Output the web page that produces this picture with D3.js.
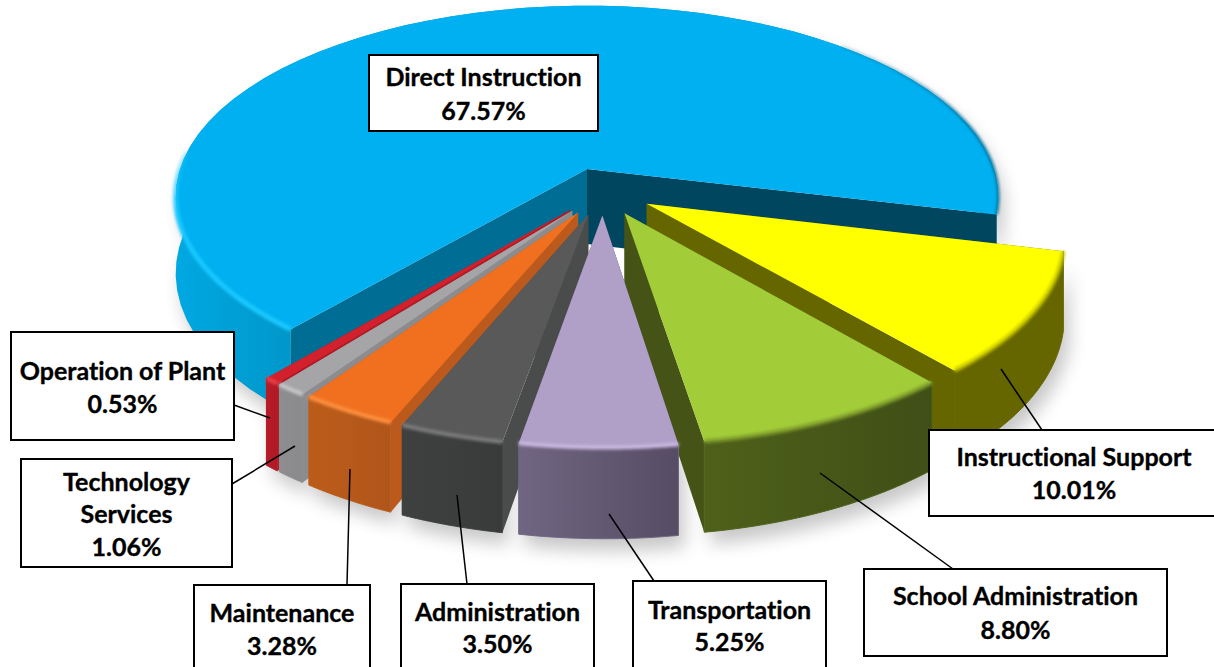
<!DOCTYPE html>
<html lang="en">

<head>
    <meta charset="utf-8">
    <script src="https://cdn.jsdelivr.net/npm/d3@7/dist/d3.min.js"></script>
    <style>
        html, body { margin: 0; padding: 0; background: #fff; overflow: hidden; }
        text { font-family: Lato, "Noto Sans", sans-serif; font-weight: 700; font-size: 25px; fill: #000; text-anchor: middle;
            font-variant-ligatures: none; stroke: #000; stroke-width: 0.35px; }
    </style>
</head>

<body>
    <div id="my_dataviz"></div>

    <script>
        // chart values, clockwise from the yellow slice
        const categories = ["Instructional Support", "School Administration", "Transportation", "Administration",
            "Maintenance", "Technology Services", "Operation of Plant", "Direct Instruction"];
        const values = [10.01, 8.80, 5.25, 3.50, 3.28, 1.06, 0.53, 67.57];

        // colours per slice
        const topColors = ["#ffff00", "#a2cd39", "#b09fc6", "#595959", "#f07020", "#a5a5a8", "#d2202c", "#00b0f0"];
        const wallLeft = ["#666600", "#4e6119", "#716682", "#3f4040", "#bc5c1a", "#8e8e91", "#b71b27", "#009ed6"];
        const wallRight = ["#666600", "#3f4f17", "#564c64", "#393a3a", "#b0561a", "#8a8a8d", "#b01a25", "#0094c6"];
        const sideColors = ["#666600", "#455416", "#564c64", "#4a4c4c", "#bb5a1c", "#8c8c8f", "#b01a25", "#00465f"];
        const rimColors = ["#c8c800", "#7f9c2c", "#c9b8e0", "#7d7d7d", "#ff9140", "#c8c8ca", "#e8404a", "#19c8ff"];

        // label boxes: x, y, w, h, line text centres, leader from / to
        const labelBoxes = [
            { x: 929, y: 430, w: 290, h: 86, lines: [457, 490], leader: [[1042, 430], [1001, 369]] },
            { x: 864, y: 569, w: 303, h: 87, lines: [596, 630], leader: [[953, 569], [820, 473]] },
            { x: 633, y: 581, w: 193, h: 90, lines: [610, 642], leader: [[654, 581], [609, 514]] },
            { x: 401, y: 584, w: 193, h: 90, lines: [612, 644], leader: [[467, 584], [457, 495]] },
            { x: 194, y: 585, w: 176, h: 90, lines: [613, 646], leader: [[347, 585], [350, 469]] },
            { x: 21, y: 459, w: 211, h: 108, lines: [482, 514, 547], leader: [[232, 484], [295, 446]] },
            { x: 11, y: 332, w: 223, h: 108, lines: [371, 404], leader: [[234, 405], [270, 418]] },
            { x: 369, y: 55, w: 229, h: 76, lines: [77, 111], leader: null }
        ];
        const labelLines = [
            ["Instructional Support"], ["School Administration"], ["Transportation"], ["Administration"],
            ["Maintenance"], ["Technology", "Services"], ["Operation of Plant"], ["Direct Instruction"]
        ];

        const width = 1214, height = 667;
        const depth = 75, persp = 0.145, explode = 0.123;
        const deg = Math.PI / 180;

        // plane coordinates to pixels, front of the pie is nearer
        const xPx = d3.scaleLinear().domain([-1, 1]).range([587 - 407, 587 + 407]);
        const yPx = d3.scaleLinear().domain([-1, 1]).range([169 - 187, 169 + 187]);
        function project(p, down) {
            const s = 1 / (1 - persp * p[1]);
            return [xPx(p[0] * s), yPx(p[1] * s) + (down ? depth * s : 0)];
        }

        const svg = d3.select("#my_dataviz").append("svg")
            .attr("width", width).attr("height", height);
        const defs = svg.append("defs");
        defs.append("filter").attr("id", "soft").attr("x", "-10%").attr("y", "-10%")
            .attr("width", "120%").attr("height", "120%")
            .append("feGaussianBlur").attr("stdDeviation", 9);
        defs.append("filter").attr("id", "rim").attr("filterUnits", "userSpaceOnUse")
            .attr("x", 0).attr("y", 0).attr("width", width).attr("height", height)
            .append("feGaussianBlur").attr("stdDeviation", 1.6);

        const pie = d3.pie().sort(null).startAngle(103.6 * deg).endAngle(463.6 * deg);
        const line = d3.line();
        const arcs = pie(values);

        const direct = arcs[7];
        const directMid = (direct.startAngle + direct.endAngle) / 2 - Math.PI / 2;
        const cx0 = -explode * Math.cos(directMid), cy0 = -explode * Math.sin(directMid);

        const slices = arcs.map((a, i) => {
            const mid = (a.startAngle + a.endAngle) / 2 - Math.PI / 2;
            const ox = cx0 + explode * Math.cos(mid), oy = cy0 + explode * Math.sin(mid);
            const t0 = a.startAngle - Math.PI / 2, t1 = a.endAngle - Math.PI / 2;
            const r = i === 7 ? 1 : 0.985;
            const rimAt = t => [ox + r * Math.cos(t), oy + r * Math.sin(t)];
            const rim = d3.range(0, 61).map(k => rimAt(t0 + (t1 - t0) * k / 60));
            return { i, apex: [ox, oy], rim, rimAt, t0, t1 };
        });

        // soft shadow on the page
        const shadow = svg.append("g").attr("filter", "url(#soft)").attr("opacity", 0.22)
            .attr("transform", "translate(6,12)");
        slices.forEach(s => {
            shadow.append("path").attr("fill", "#000")
                .attr("d", line(s.rim.map(p => project(p, true)).concat(s.rim.slice().reverse().map(p => project(p, false)))) + "Z");
        });

        // wall gradients
        slices.forEach(s => {
            const g = defs.append("linearGradient").attr("id", "wall" + s.i);
            g.append("stop").attr("offset", "0%").attr("stop-color", wallLeft[s.i]);
            g.append("stop").attr("offset", "100%").attr("stop-color", wallRight[s.i]);
        });
        const gradDirect = defs.append("linearGradient").attr("id", "wallDirect").attr("gradientUnits", "userSpaceOnUse")
            .attr("x1", 175).attr("x2", 300).attr("y1", 0).attr("y2", 0);
        gradDirect.append("stop").attr("offset", "0%").attr("stop-color", "#00a8e2");
        gradDirect.append("stop").attr("offset", "100%").attr("stop-color", "#0096c8");

        // rims of the big slice fade out towards the back
        function fadeGradient(id, color, y0, y1) {
            const g = defs.append("linearGradient").attr("id", id).attr("gradientUnits", "userSpaceOnUse")
                .attr("x1", 0).attr("x2", 0).attr("y1", y0).attr("y2", y1);
            g.append("stop").attr("offset", "0%").attr("stop-color", color).attr("stop-opacity", 0);
            g.append("stop").attr("offset", "100%").attr("stop-color", color).attr("stop-opacity", 1);
        }
        fadeGradient("rimLeft", rimColors[7], 130, 215);
        fadeGradient("rimRight", "#006f98", 20, 130);

        function quad(a, b) {
            return line([project(a, false), project(b, false), project(b, true), project(a, true)]) + "Z";
        }
        function rimPart(s, a, b) {
            return line(d3.range(0, 41).map(k => project(s.rimAt(a + (b - a) * k / 40), false)));
        }

        // painted back to front
        const order = [7, 6, 5, 4, 3, 0, 1, 2];
        order.forEach(i => {
            const s = slices[i];
            const g = svg.append("g");
            const first = s.rim[0], last = s.rim[s.rim.length - 1];

            const wall = s.rim.map(p => project(p, false))
                .concat(s.rim.slice().reverse().map(p => project(p, true)));
            const wallPath = () => g.append("path").attr("d", line(wall) + "Z")
                .attr("fill", i === 7 ? "url(#wallDirect)" : `url(#wall${i})`)
                .attr("stroke", i === 7 ? "none" : wallLeft[i]).attr("stroke-width", 1).attr("stroke-linejoin", "round");

            if (i === 7) {
                // inner faces of the big slice have two shades, over its outer wall
                wallPath();
                g.append("path").attr("d", quad(s.apex, last)).attr("fill", "#00465f");
                g.append("path").attr("d", quad(s.apex, first)).attr("fill", "#006d94");
            } else {
                g.append("path").attr("d", quad(s.apex, first)).attr("fill", sideColors[i]);
                g.append("path").attr("d", quad(s.apex, last)).attr("fill", sideColors[i]);
                wallPath();
            }

            const top = [project(s.apex, false)].concat(s.rim.map(p => project(p, false)));
            g.append("path").attr("d", line(top) + "Z")
                .attr("fill", topColors[i]);

            // rim where the top turns into the wall
            if (i === 7) {
                g.append("path").attr("d", rimPart(s, s.t0, s.t0 + 55 * deg))
                    .attr("fill", "none").attr("stroke", "url(#rimLeft)").attr("stroke-width", 5)
                    .attr("filter", "url(#rim)");
                g.append("path").attr("d", rimPart(s, s.t1 - 60 * deg, s.t1))
                    .attr("fill", "none").attr("stroke", "url(#rimRight)").attr("stroke-width", 2.5)
                    .attr("filter", "url(#rim)");
            } else {
                g.append("path").attr("d", line(s.rim.map(p => project(p, false))))
                    .attr("fill", "none").attr("stroke", rimColors[i]).attr("stroke-width", 4)
                    .attr("filter", "url(#rim)");
            }
        });

        // leaders and boxes
        labelBoxes.forEach((b, i) => {
            if (b.leader) {
                svg.append("line")
                    .attr("x1", b.leader[0][0]).attr("y1", b.leader[0][1])
                    .attr("x2", b.leader[1][0]).attr("y2", b.leader[1][1])
                    .attr("stroke", "#000").attr("stroke-width", 1.5);
            }
            svg.append("rect").attr("x", b.x).attr("y", b.y).attr("width", b.w).attr("height", b.h)
                .attr("fill", "#fff").attr("stroke", "#000").attr("stroke-width", 2);
            const rows = labelLines[i].concat(values[i].toFixed(2) + "%");
            rows.forEach((t, k) => {
                svg.append("text")
                    .attr("x", b.x + b.w / 2 > 1074 ? 1074 : b.x + b.w / 2)
                    .attr("y", b.lines[k]).attr("dy", "0.35em").text(t);
            });
        });
    </script>

</body>

</html>
